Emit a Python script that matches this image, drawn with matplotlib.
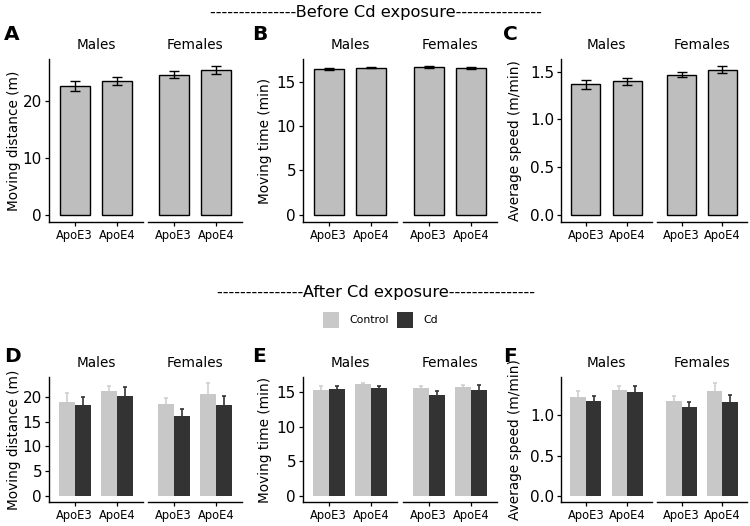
import matplotlib
matplotlib.use("Agg")
import matplotlib.pyplot as plt
from matplotlib.patches import Rectangle
import numpy as np

plt.rcParams['font.family'] = ['DejaVu Sans']

# ---------------- data ----------------
sexes = ["Males", "Females"]
genotypes = ["ApoE3", "ApoE4"]

# order: Males-ApoE3, Males-ApoE4, Females-ApoE3, Females-ApoE4
before_distance = [22.7, 23.5, 24.6, 25.4]
before_distance_se = [0.9, 0.7, 0.6, 0.7]
before_time = [16.5, 16.67, 16.75, 16.63]
before_time_se = [0.1, 0.1, 0.08, 0.08]
before_speed = [1.367, 1.40, 1.468, 1.52]
before_speed_se = [0.045, 0.035, 0.025, 0.035]

treatments = ["Control", "Cd"]
after_distance_control = [19.0, 21.1, 18.5, 20.6]
after_distance_control_se = [1.8, 1.0, 1.2, 2.2]
after_distance_cd = [18.35, 20.1, 16.2, 18.3]
after_distance_cd_se = [1.5, 1.9, 1.4, 1.75]
after_time_control = [15.25, 16.08, 15.53, 15.6]
after_time_control_se = [0.55, 0.22, 0.27, 0.3]
after_time_cd = [15.43, 15.53, 14.54, 15.3]
after_time_cd_se = [0.37, 0.27, 0.5, 0.6]
after_speed_control = [1.226, 1.31, 1.18, 1.30]
after_speed_control_se = [0.075, 0.055, 0.053, 0.10]
after_speed_cd = [1.17, 1.285, 1.096, 1.164]
after_speed_cd_se = [0.066, 0.075, 0.064, 0.081]

# ---------------- layout helpers ----------------
W, H = 750, 526
fig = plt.figure(figsize=(W / 100, H / 100), dpi=100)

def ax_px(x0, y0, x1, y1):
    return fig.add_axes([x0 / W, 1 - y1 / H, (x1 - x0) / W, (y1 - y0) / H])

CTRL = "#c8c8c8"
CD = "#333333"
TOPFILL = "#bebebe"

def fmt_ticks(yticks):
    if max(yticks) < 5:
        return ["%.1f" % t for t in yticks]
    return ["%d" % t for t in yticks]

def style(ax, left, yticks, ylim):
    ax.set_xlim(0.4, 2.6)
    ax.set_ylim(*ylim)
    ax.set_facecolor("none")
    for s in ["top", "right"]:
        ax.spines[s].set_visible(False)
    ax.spines["bottom"].set_linewidth(1.0)
    ax.spines["left"].set_linewidth(1.0)
    ax.set_xticks([1, 2])
    ax.set_xticklabels(genotypes, fontsize=8.3)
    ax.tick_params(axis="x", length=3, width=0.9, pad=2, colors="black")
    if left:
        ax.set_yticks(yticks)
        ax.set_yticklabels(fmt_ticks(yticks), fontsize=11)
        ax.tick_params(axis="y", length=3, width=0.9, pad=2)
    else:
        ax.spines["left"].set_visible(False)
        ax.set_yticks([])

def make_facets(xs, y0, y1):
    return [ax_px(xs[0], y0, xs[1], y1), ax_px(xs[2], y0, xs[3], y1)]

top_y = (59, 222)
bot_y = (377, 502)
col_x = [(49, 143, 148, 242), (303, 397, 403, 497), (561, 652, 657, 747)]
ylab_x = [14, 265, 515]
plabel_x = [4, 252, 503]

before_specs = [
    ("A", "Moving distance (m)", before_distance, before_distance_se, [0, 10, 20], (-1.3, 27.4)),
    ("B", "Moving time (min)", before_time, before_time_se, [0, 5, 10, 15], (-0.84, 17.64)),
    ("C", "Average speed (m/min)", before_speed, before_speed_se, [0.0, 0.5, 1.0, 1.5], (-0.078, 1.633)),
]
after_specs = [
    ("D", "Moving distance (m)", after_distance_control, after_distance_control_se,
     after_distance_cd, after_distance_cd_se, [0, 5, 10, 15, 20], (-1.14, 23.94)),
    ("E", "Moving time (min)", after_time_control, after_time_control_se,
     after_time_cd, after_time_cd_se, [0, 5, 10, 15], (-0.815, 17.1)),
    ("F", "Average speed (m/min)", after_speed_control, after_speed_control_se,
     after_speed_cd, after_speed_cd_se, [0.0, 0.5, 1.0], (-0.07, 1.47)),
]

x = np.array([1, 2])

for i, (lab, ylab, vals, se, yt, yl) in enumerate(before_specs):
    axes = make_facets(col_x[i], *top_y)
    for j, ax in enumerate(axes):
        v = vals[2 * j:2 * j + 2]
        e = se[2 * j:2 * j + 2]
        ax.bar(x, v, width=0.7, color=TOPFILL, edgecolor="black", linewidth=1.0, zorder=2)
        ax.errorbar(x, v, yerr=e, fmt="none", ecolor="black", elinewidth=1.0,
                    capsize=3.5, capthick=1.0, zorder=3)
        style(ax, j == 0, yt, yl)
        cx = (col_x[i][2 * j] + col_x[i][2 * j + 1]) / 2
        fig.text(cx / W, 1 - 45 / H, sexes[j], ha="center", va="center", fontsize=9.8)
    fig.text(ylab_x[i] / W, 1 - ((top_y[0] + top_y[1]) / 2) / H, ylab, rotation=90,
             ha="center", va="center", fontsize=9.8)
    fig.text(plabel_x[i] / W, 1 - 35 / H, lab, ha="left", va="center",
             fontsize=14.5, fontweight="bold")

bw = 0.375
for i, (lab, ylab, vc, sc, vd, sd, yt, yl) in enumerate(after_specs):
    axes = make_facets(col_x[i], *bot_y)
    for j, ax in enumerate(axes):
        c = vc[2 * j:2 * j + 2]
        ce = sc[2 * j:2 * j + 2]
        d = vd[2 * j:2 * j + 2]
        de = sd[2 * j:2 * j + 2]
        ax.errorbar(x - bw / 2, c, yerr=ce, fmt="none", ecolor="#d0d0d0", elinewidth=1.2,
                    capsize=1.2, capthick=1.2, zorder=1)
        ax.errorbar(x + bw / 2, d, yerr=de, fmt="none", ecolor=CD, elinewidth=1.2,
                    capsize=1.2, capthick=1.2, zorder=1)
        ax.bar(x - bw / 2, c, width=bw, color=CTRL, linewidth=0, zorder=2)
        ax.bar(x + bw / 2, d, width=bw, color=CD, linewidth=0, zorder=2)
        style(ax, j == 0, yt, yl)
        cx = (col_x[i][2 * j] + col_x[i][2 * j + 1]) / 2
        fig.text(cx / W, 1 - 363 / H, sexes[j], ha="center", va="center", fontsize=9.8)
    fig.text(ylab_x[i] / W, 1 - ((bot_y[0] + bot_y[1]) / 2) / H, ylab, rotation=90,
             ha="center", va="center", fontsize=9.8)
    fig.text(plabel_x[i] / W, 1 - 356 / H, lab, ha="left", va="center",
             fontsize=14.5, fontweight="bold")

# titles
dash = "-" * 15
fig.text(376 / W, 1 - 12 / H, dash + "Before Cd exposure" + dash, ha="center", va="center", fontsize=11.7)
fig.text(376 / W, 1 - 293 / H, dash + "After Cd exposure" + dash, ha="center", va="center", fontsize=11.7)

# legend
for (x0, col, txt, tx) in [(323, CTRL, treatments[0], 349), (397, CD, treatments[1], 423)]:
    fig.patches.append(Rectangle((x0 / W, 1 - 328 / H), 16 / W, 16 / H,
                                 transform=fig.transFigure, facecolor=col, edgecolor="none"))
    fig.text(tx / W, 1 - 320 / H, txt, ha="left", va="center", fontsize=7.8)

fig.savefig("out.png", dpi=100)
